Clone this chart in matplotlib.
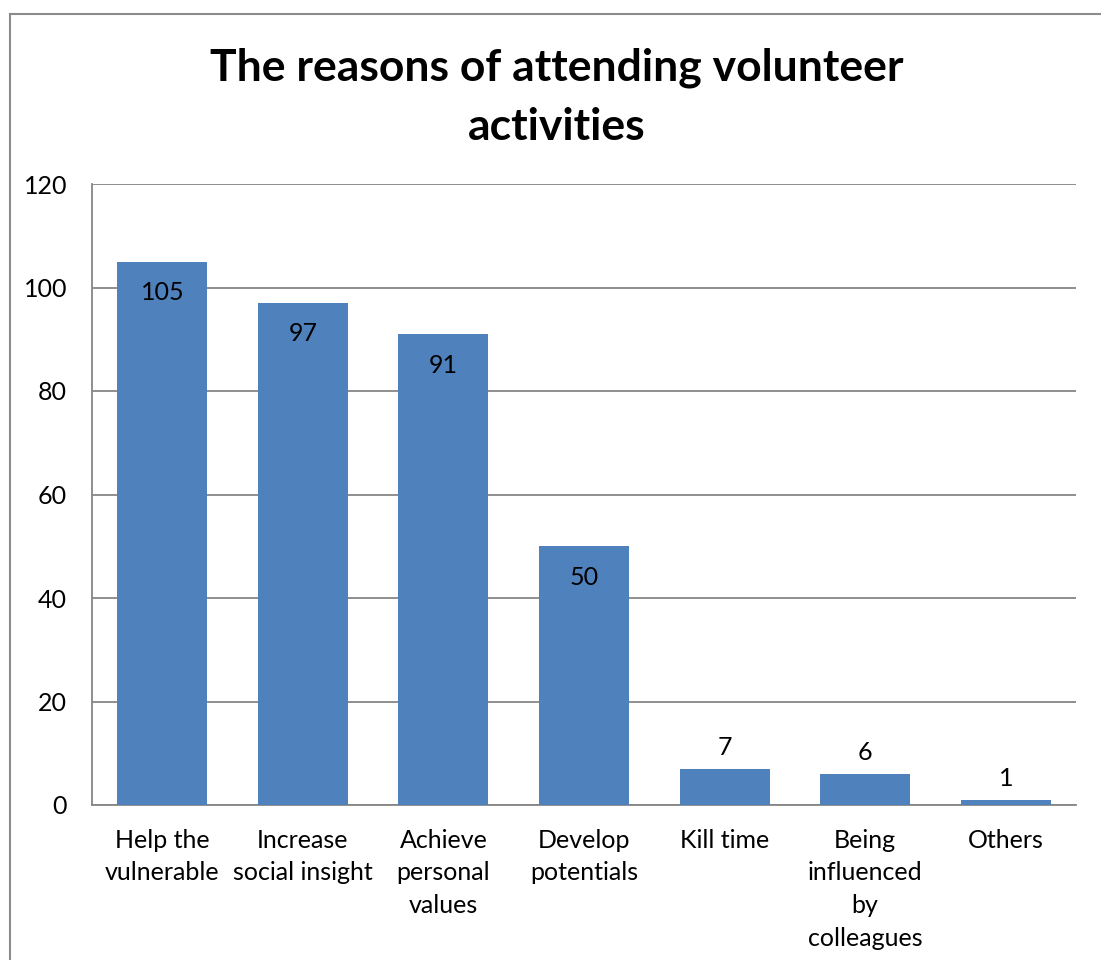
import matplotlib
matplotlib.use("Agg")
import matplotlib.pyplot as plt
from matplotlib.lines import Line2D

categories = ["Help the\nvulnerable", "Increase\nsocial insight", "Achieve\npersonal\nvalues",
              "Develop\npotentials", "Kill time", "Being\ninfluenced\nby\ncolleagues", "Others"]
values = [105, 97, 91, 50, 7, 6, 1]
yticks = [0, 20, 40, 60, 80, 100, 120]
title = "The reasons of attending volunteer\nactivities"

plt.rcParams['font.family'] = ['Lato', 'DejaVu Sans']

fig = plt.figure(figsize=(11.01, 9.6), dpi=100)
ax = fig.add_axes([92/1101, 1-805/960, (1076-92)/1101, (805-184)/960])

x = list(range(len(values)))
bars = ax.bar(x, values, width=0.64, color="#4F81BD", zorder=3)
ax.set_xlim(-0.5, len(values)-0.5)
ax.set_ylim(0, 120)
ax.set_yticks(yticks)
ax.set_yticklabels([str(t) for t in yticks], fontsize=18)
ax.set_xticks(x)
ax.set_xticklabels(categories, fontsize=18, linespacing=1.52, va='top')
ax.tick_params(axis='both', length=0)
ax.tick_params(axis='y', pad=18)
ax.tick_params(axis='x', pad=17)
ax.grid(axis='y', color="#868686", linewidth=1.3, zorder=0)
for s in ['top', 'right']:
    ax.spines[s].set_visible(False)
for s in ['left', 'bottom']:
    ax.spines[s].set_color("#868686")
    ax.spines[s].set_linewidth(1.3)

for xi, v in zip(x, values):
    if v > 20:
        ax.annotate(str(v), (xi, v), xytext=(0, -14), textcoords='offset points',
                    ha='center', va='top', fontsize=18)
    else:
        ax.annotate(str(v), (xi, v), xytext=(0, 7), textcoords='offset points',
                    ha='center', va='bottom', fontsize=18)

fig.text(557/1101, 1-97.5/960, title, ha='center', va='center', fontsize=32,
         fontweight='bold', linespacing=1.58)

# chart border (Excel chart area)
fig.add_artist(Line2D([9.5/1101, 9.5/1101], [0, 1-13.5/960], transform=fig.transFigure,
                      color="#8c8c8c", linewidth=1.5))
fig.add_artist(Line2D([9.5/1101, 1.0], [1-13.5/960, 1-13.5/960], transform=fig.transFigure,
                      color="#8c8c8c", linewidth=1.5))

fig.savefig("out.png", dpi=100)
